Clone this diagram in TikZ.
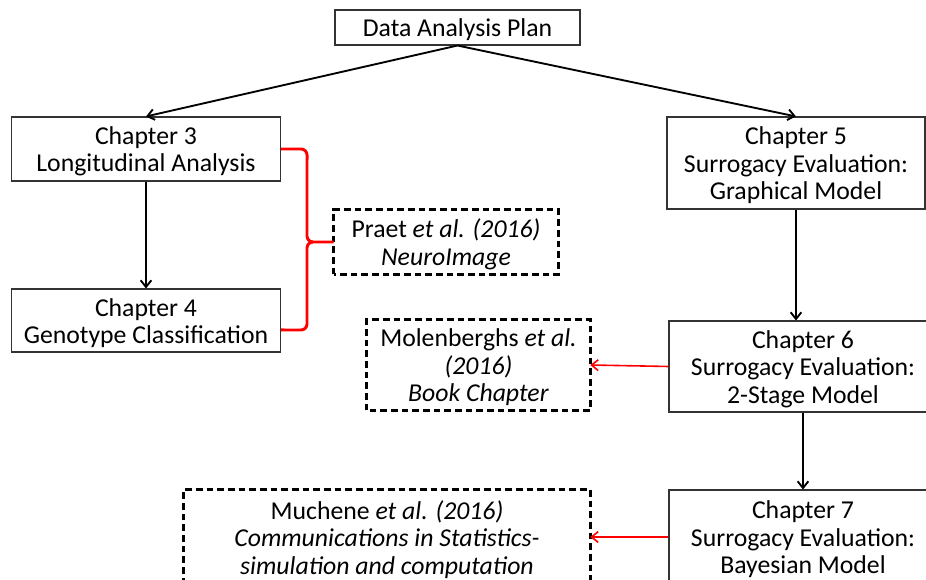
\documentclass[tikz,border=0pt]{standalone}
\usepackage{fontspec}
\setmainfont{Carlito}
\usetikzlibrary{arrows.meta}
\begin{document}
\begin{tikzpicture}[x=0.75pt,y=-0.75pt,
  txt/.style={align=center,font=\fontsize{19.3}{20.6}\selectfont,text=black},
  boxtext/.style={label={[txt,yshift=-1.9pt]center:#1}},
  chbox/.style={draw=black!80,line width=0.8pt,inner sep=0pt},
  refbox/.style={inner sep=0pt},
  dashframe/.style={draw=black,line width=2pt,dash pattern=on 5pt off 3pt},
  sz/.style n args={2}{minimum width={#1*0.75pt},minimum height={#2*0.75pt}},
  arr/.style={draw=black,line width=1.4pt,-{Straight Barb[length=5pt,width=8pt,line width=1.4pt]}},
  redarr/.style={draw=red,line width=1.2pt,-{Straight Barb[length=5pt,width=8pt,line width=1.2pt]}},
  brace/.style={draw=red,line width=2.2pt,line join=round}]
\useasboundingbox (0,0) rectangle (926,580);
\clip (0,0) rectangle (926,580);
\fill[white] (0,0) rectangle (926,580);

\node[chbox,sz={245}{35},boxtext={Data Analysis Plan}] (dap) at (457.5,27.5) {};
\node[chbox,sz={269}{64},boxtext={Chapter 3\\Longitudinal Analysis}] (c3) at (146,149) {};
\node[chbox,sz={269}{63},boxtext={Chapter 4\\Genotype Classification}] (c4) at (146,320.5) {};
\node[chbox,sz={258}{92},boxtext={Chapter 5\\Surrogacy Evaluation:\\Graphical Model}] (c5) at (796,163) {};
\node[chbox,sz={268}{91},boxtext={Chapter 6\\Surrogacy Evaluation:\\2-Stage Model}] (c6) at (803,366.5) {};
\node[chbox,sz={268}{94},boxtext={Chapter 7\\Surrogacy Evaluation:\\Bayesian Model}] (c7) at (803,537) {};

\node[refbox,sz={224}{64},boxtext={Praet \textit{et al. (2016)}\\\textit{NeuroImage}}] (praet) at (446,242) {};
\node[refbox,sz={223}{90},boxtext={Molenberghs \textit{et al.}\\\textit{(2016)}\\\textit{Book Chapter}}] (mol) at (478.5,365) {};
\node[refbox,sz={406}{94},boxtext={Muchene \textit{et al. (2016)}\\\textit{Communications in Statistics-}\\\textit{simulation and computation}}] (much) at (387,537) {};

\draw[dashframe] (praet.south west) rectangle (praet.north east);
\draw[dashframe] (mol.south west) rectangle (mol.north east);
\draw[dashframe] (much.south west) rectangle (much.north east);

\draw[arr] (dap.south) -- (c3.north);
\draw[arr] (dap.south) -- (c5.north);
\draw[arr] (c3.south) -- (c4.north);
\draw[arr] (c5.south) -- (c5.south |- c6.north);
\draw[arr] (c6.south) -- (c7.north);

\draw[redarr] (c6.west) -- (mol.east);
\draw[redarr] (c7.west) -- (much.east);

\draw[brace] (c3.east) -- ++(20,0) to[out=0,in=90] ++(6,6) -- (307,236)
  to[out=-90,in=180] (313,242) -- (praet.west);
\draw[brace] (313,242) to[out=180,in=90] (307,248) -- (307,324)
  to[out=-90,in=0] (301,330) -- ([yshift=-7.1pt]c4.east);
\end{tikzpicture}
\end{document}
